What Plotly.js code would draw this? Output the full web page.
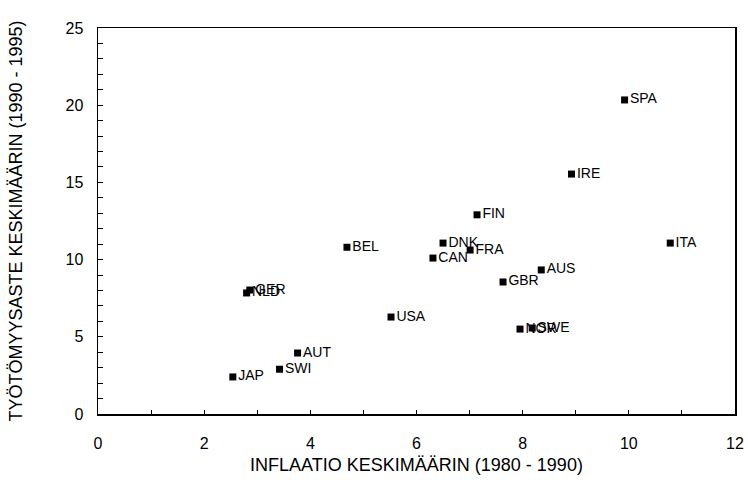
<!DOCTYPE html>
<html>
<head>
<meta charset="utf-8">
<script src="https://cdn.plot.ly/plotly-3.0.1.min.js"></script>
<style>html,body{margin:0;padding:0;background:#fff;}#chart{width:748px;height:495px;}</style>
</head>
<body>
<div id="chart"></div>
<script>
const countries = ["JAP","SWI","AUT","USA","GER","NLD","BEL","DNK","CAN","FRA","FIN","GBR","AUS","NOR","SWE","SPA","IRE","ITA"];
const inflation = [2.54,3.42,3.76,5.52,2.86,2.80,4.69,6.50,6.31,7.01,7.14,7.63,8.35,7.95,8.18,9.92,8.92,10.78];
const unemployment = [2.4,2.9,3.95,6.28,8.03,7.84,10.8,11.07,10.1,10.62,12.9,8.55,9.33,5.5,5.57,20.34,15.54,11.07];

const fontMain = "Liberation Sans, Arial, Helvetica, sans-serif";

const trace = {
  x: inflation,
  y: unemployment,
  text: countries,
  mode: "markers+text",
  type: "scatter",
  textposition: "middle right",
  marker: {symbol: "square", size: 7, color: "#000"},
  textfont: {family: fontMain, size: 14, color: "#000"},
  cliponaxis: false,
  hoverinfo: "x+y+text"
};

const layout = {
  width: 748, height: 495,
  margin: {l: 98, r: 13, t: 28, b: 81},
  paper_bgcolor: "#fff", plot_bgcolor: "#fff",
  showlegend: false,
  font: {family: fontMain, color: "#000"},
  xaxis: {
    range: [0, 12], dtick: 2, tick0: 0,
    showgrid: false, zeroline: false,
    showline: true, linecolor: "#000", linewidth: 1.5, mirror: true,
    ticks: "inside", ticklen: 4, tickcolor: "#000",
    minor: {dtick: 1, ticks: "inside", ticklen: 4, tickcolor: "#000"},
    tickfont: {family: fontMain, size: 16, color: "#000"},
    ticklabelstandoff: 14,
    title: {text: "INFLAATIO KESKIMÄÄRIN (1980 - 1990)", font: {family: fontMain, size: 18, color: "#000"}, standoff: 7}
  },
  yaxis: {
    range: [0, 25], dtick: 5, tick0: 0,
    showgrid: false, zeroline: false,
    showline: true, linecolor: "#000", linewidth: 1.5, mirror: true,
    ticks: "inside", ticklen: 5, tickcolor: "#000",
    minor: {dtick: 1, ticks: "inside", ticklen: 5, tickcolor: "#000"},
    tickfont: {family: fontMain, size: 16, color: "#000"},
    ticklabelstandoff: 10,
    title: {text: "TYÖTÖMYYSASTE KESKIMÄÄRIN (1990 - 1995)", font: {family: fontMain, size: 18, color: "#000"}, standoff: 38}
  }
};

Plotly.newPlot("chart", [trace], layout, {displayModeBar: false, staticPlot: true});
</script>
</body>
</html>
